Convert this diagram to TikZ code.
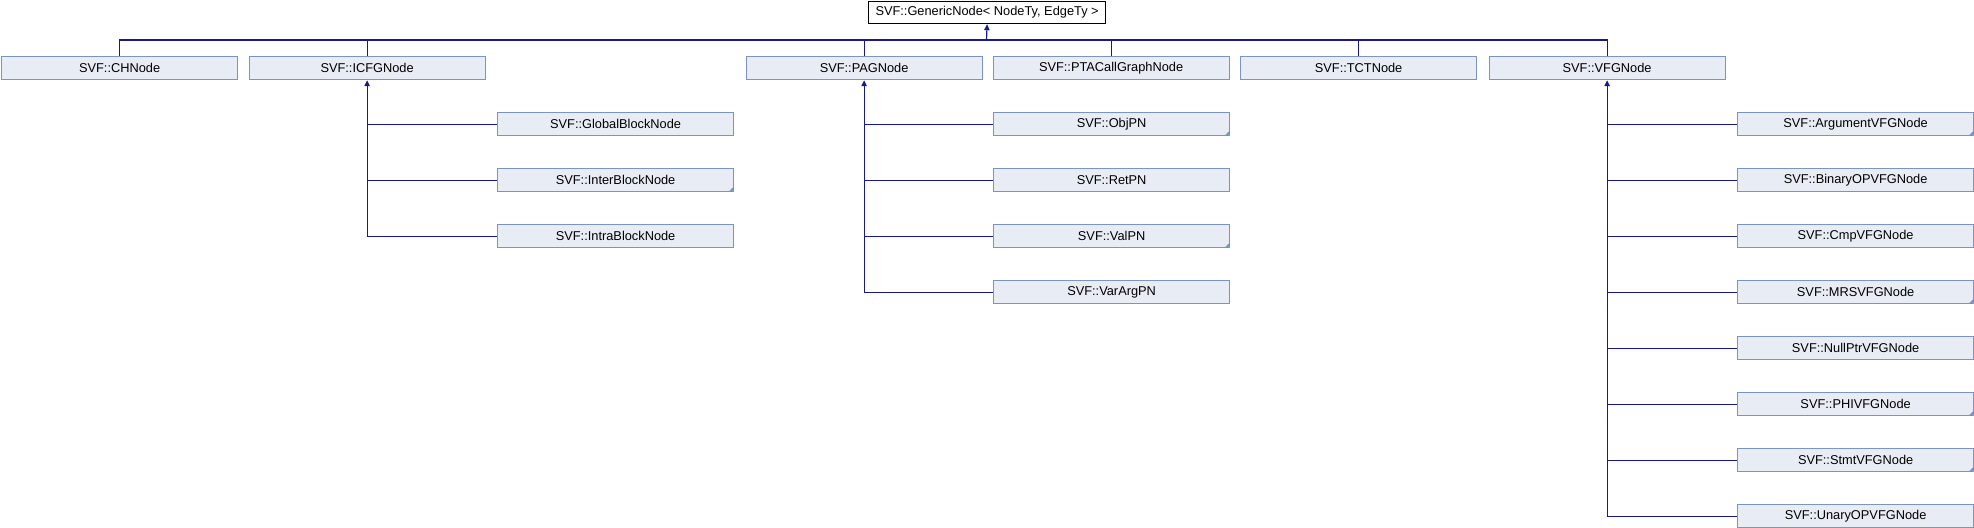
\documentclass[tikz,border=0pt]{standalone}
\usepackage{fontspec}
\setmainfont{Liberation Sans}
\usetikzlibrary{arrows.meta}
\definecolor{boxfill}{RGB}{232,236,245}
\definecolor{boxline}{RGB}{124,147,201}
\definecolor{edge}{RGB}{25,25,140}
\begin{document}
\begin{tikzpicture}[x=0.75pt,y=-0.75pt,
  cls/.style={draw=boxline,fill=boxfill,line width=0.9pt,minimum width=236*0.75pt,minimum height=23*0.75pt,inner sep=0pt,font=\fontsize{9.6}{11}\selectfont,anchor=north west},
  topcls/.style={draw=black,fill=white,line width=0.9pt,minimum width=237*0.75pt,minimum height=22*0.75pt,inner sep=0pt,font=\fontsize{9.6}{11}\selectfont,anchor=north west},
  conn/.style={draw=edge,line width=0.9pt},
  inh/.style={conn,{Triangle[length=4.5pt,width=4pt]}-},
  cornermark/.style={fill=boxline,draw=none}]
\useasboundingbox (0,0) rectangle (1974,528);
% top
\node[topcls] (gen) at (868,1) {SVF::GenericNode< NodeTy, EdgeTy >};
% row 2
\node[cls] (ch) at (1,56) {SVF::CHNode};
\node[cls] (icfg) at (248.5,56) {SVF::ICFGNode};
\node[cls] (pag) at (745.5,56) {SVF::PAGNode};
\node[cls] (pta) at (992.5,56) {SVF::PTACallGraphNode};
\node[cls] (tct) at (1240,56) {SVF::TCTNode};
\node[cls] (vfg) at (1488.5,56) {SVF::VFGNode};
% ICFG children
\node[cls] (gb) at (497,112) {SVF::GlobalBlockNode};
\node[cls] (ib) at (497,168) {SVF::InterBlockNode};
\node[cls] (ab) at (497,224) {SVF::IntraBlockNode};
% PAG children
\node[cls] (obj) at (993,112) {SVF::ObjPN};
\node[cls] (ret) at (993,168) {SVF::RetPN};
\node[cls] (val) at (993,224) {SVF::ValPN};
\node[cls] (var) at (993,280) {SVF::VarArgPN};
% VFG children
\node[cls] (arg) at (1737,112) {SVF::ArgumentVFGNode};
\node[cls] (bin) at (1737,168) {SVF::BinaryOPVFGNode};
\node[cls] (cmp) at (1737,224) {SVF::CmpVFGNode};
\node[cls] (mrs) at (1737,280) {SVF::MRSVFGNode};
\node[cls] (nul) at (1737,336) {SVF::NullPtrVFGNode};
\node[cls] (phi) at (1737,392) {SVF::PHIVFGNode};
\node[cls] (stm) at (1737,448) {SVF::StmtVFGNode};
\node[cls] (una) at (1737,504) {SVF::UnaryOPVFGNode};
% corner marks
\foreach \n in {ib,obj,val,arg,mrs,phi,stm}{
  \fill[cornermark] ([xshift=-0.4pt,yshift=0.4pt]\n.south east) -- ++(0,-5) -- ++(-5,5) -- cycle;
}
% bus to top
\coordinate (bus) at (986.5,40);
\draw[inh] (gen.south) -- (bus);
\draw[conn] (ch.north) |- (vfg.north |- bus) -- (vfg.north);
\foreach \n in {icfg,pag,pta,tct}{ \draw[conn] (\n.north |- bus) -- (\n.north); }
% ICFG subtree
\draw[inh] (icfg.south) -- (icfg.south |- ab.west) -- (ab.west);
\foreach \n in {gb,ib}{ \draw[conn] (icfg.south |- \n.west) -- (\n.west); }
% PAG subtree
\draw[inh] (pag.south) -- (pag.south |- var.west) -- (var.west);
\foreach \n in {obj,ret,val}{ \draw[conn] (pag.south |- \n.west) -- (\n.west); }
% VFG subtree
\draw[inh] (vfg.south) -- (vfg.south |- una.west) -- (una.west);
\foreach \n in {arg,bin,cmp,mrs,nul,phi,stm}{ \draw[conn] (vfg.south |- \n.west) -- (\n.west); }
\end{tikzpicture}
\end{document}
